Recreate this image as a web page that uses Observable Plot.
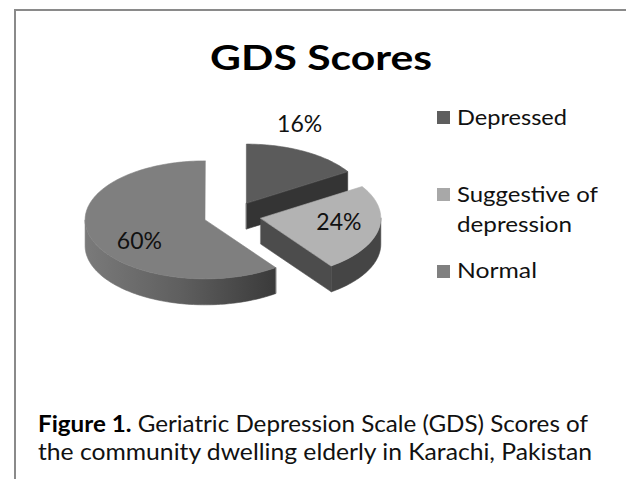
<!DOCTYPE html>
<html><head><meta charset="utf-8">
<script src="https://cdn.jsdelivr.net/npm/d3@7"></script>
<script src="https://cdn.jsdelivr.net/npm/@observablehq/plot@0.6"></script>
<style>
body{margin:0;background:#fff;}
#chart{width:626px;height:479px;overflow:hidden;}
</style></head>
<body><div id="chart"></div>
<script>
// ---------- data ----------
const categories = ["Depressed", "Suggestive of depression", "Normal"];
const shares = [16, 24, 60];
const pctLabels = ["16%", "24%", "60%"];
const legendLines = [["Depressed"], ["Suggestive of", "depression"], ["Normal"]];
const titleText = "GDS Scores";
const captionBold = "Figure 1.";
const captionLine1 = " Geriatric Depression Scale (GDS) Scores of";
const captionLine2 = "the community dwelling elderly in Karachi, Pakistan";

// ---------- style ----------
const topColors = ["#5b5b5b", "#b3b3b3", "#7f7f7f"];
const radialColors = ["#343434", "#4c4c4c", "#3a3a3a"];
const sideColors = ["#383838", "#454545", "url(#normalSide)"];
const swatchColors = ["#5e5e5e", "#a8a8a8", "#808080"];
const labelNudge = [[-19, -14], [5, -2], [5, 10]];
const legendWidths = [[110], [141, 115], [80]];
const FONT = "Lato, 'Open Sans', sans-serif";
const cx = 232, cy = 215, ra = 120, rb = 59;
const EXPLODE = 0.24, DEPTH = 0.44;

// ---------- geometry from data ----------
const total = d3.sum(shares);
let acc = 0;
const slices = shares.map((v, i) => {
  const s = acc / total * 2 * Math.PI; acc += v;
  const t = acc / total * 2 * Math.PI;
  const m = (s + t) / 2;
  return {i, v, s, t, m, ox: EXPLODE * Math.sin(m), oy: -EXPLODE * Math.cos(m)};
});
function arc(sl, a0, a1, dz = 0) {
  const n = Math.max(2, Math.ceil((a1 - a0) * 40));
  return d3.range(n + 1).map(k => {
    const th = a0 + (a1 - a0) * k / n;
    return {x: sl.ox + Math.sin(th), y: sl.oy - Math.cos(th) + dz};
  });
}
const marks = [];
function face(points, color) {
  marks.push(Plot.line(points, {x: "x", y: "y", fill: color, stroke: color, strokeWidth: 0.6, curve: "linear-closed"}));
}
for (const sl of slices) {
  const v = {x: sl.ox, y: sl.oy}, vd = {x: sl.ox, y: sl.oy + DEPTH};
  const a0 = Math.max(sl.s, Math.PI / 2), a1 = Math.min(sl.t, 3 * Math.PI / 2);
  if (a1 > a0) face(arc(sl, a0, a1).concat(arc(sl, a0, a1, DEPTH).reverse()), sideColors[sl.i]);
  if (Math.sin(sl.t) > 1e-6) { const p = arc(sl, sl.t, sl.t)[0]; face([v, p, {x: p.x, y: p.y + DEPTH}, vd], radialColors[sl.i]); }
  if (Math.sin(sl.s) < -1e-6) { const p = arc(sl, sl.s, sl.s)[0]; face([v, p, {x: p.x, y: p.y + DEPTH}, vd], radialColors[sl.i]); }
  face([v, ...arc(sl, sl.s, sl.t)], topColors[sl.i]);
}
const labelData = slices.map(sl => {
  const r = sl.v / total < 0.2 ? 1.25 : 0.62;
  return {x: sl.ox + r * Math.sin(sl.m), y: sl.oy - r * Math.cos(sl.m), text: pctLabels[sl.i], dx: labelNudge[sl.i][0], dy: labelNudge[sl.i][1]};
});
for (const d of labelData) {
  marks.push(Plot.text([d], {x: "x", y: "y", text: "text", fontSize: 23, fill: "#111", dx: d.dx, dy: d.dy}));
}

const chart = Plot.plot({
  width: 626, height: 479, margin: 0,
  x: {domain: [-1, 1], range: [cx - ra, cx + ra], axis: null},
  y: {domain: [-1, 1], range: [cy - rb, cy + rb], axis: null},
  style: {background: "white", fontFamily: FONT},
  marks
});
document.getElementById("chart").appendChild(chart);

// ---------- decorations ----------
const svg = d3.select(chart);
const grad = svg.insert("defs", ":first-child").append("linearGradient").attr("id", "normalSide")
  .attr("x1", 0).attr("x2", 1).attr("y1", 0).attr("y2", 0);
grad.append("stop").attr("offset", 0).attr("stop-color", "#7a7a7a");
grad.append("stop").attr("offset", 0.5).attr("stop-color", "#5f5f5f");
grad.append("stop").attr("offset", 1).attr("stop-color", "#3a3a3a");

svg.append("line").attr("x1", 15).attr("x2", 15).attr("y1", 9).attr("y2", 479).attr("stroke", "#8a8a8a").attr("stroke-width", 2);
svg.append("line").attr("x1", 14).attr("x2", 626).attr("y1", 10).attr("y2", 10).attr("stroke", "#8a8a8a").attr("stroke-width", 2);

function txt(x, y, size, weight, anchor, len) {
  const t = svg.append("text").attr("x", x).attr("y", y).attr("font-family", FONT)
    .attr("font-size", size).attr("font-weight", weight).attr("text-anchor", anchor).attr("fill", "#000");
  if (len) t.attr("textLength", len).attr("lengthAdjust", "spacingAndGlyphs");
  return t;
}
txt(321, 70, 35, 700, "middle", 222).text(titleText);

const legendY = [[125], [202, 232], [278]];
const swatchY = [111, 188, 265];
categories.forEach((c, i) => {
  svg.append("rect").attr("x", 437).attr("y", swatchY[i]).attr("width", 13).attr("height", 13).attr("fill", swatchColors[i]);
  legendLines[i].forEach((line, j) => txt(457, legendY[i][j], 21, 400, "start", legendWidths[i][j]).attr("fill", "#111").text(line));
});

const c1 = txt(38, 432, 23, 400, "start", 550).attr("fill", "#111");
c1.append("tspan").attr("font-weight", 700).attr("fill", "#000").text(captionBold);
c1.append("tspan").text(captionLine1);
txt(38, 460, 23, 400, "start", 554).attr("fill", "#111").text(captionLine2);
</script></body></html>
